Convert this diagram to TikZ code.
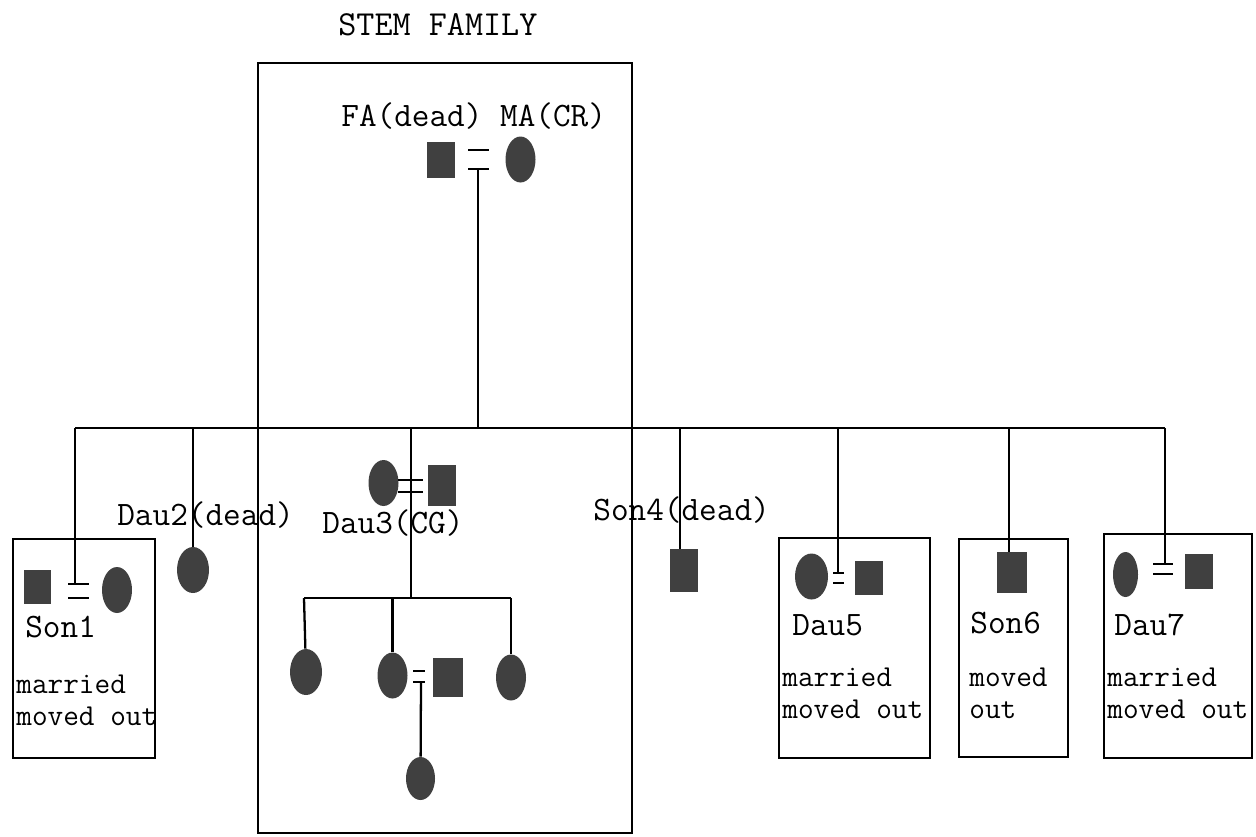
\documentclass[tikz,border=0pt]{standalone}
\usepackage{fontspec}
\usetikzlibrary{shapes.geometric}
\definecolor{shade}{gray}{0.25}

\begin{document}
\begin{tikzpicture}[
    x=0.02cm, y=-0.02cm,
    font=\ttfamily\fontsize{19.5}{22}\selectfont,
    tie/.style={line width=1.3pt},
    frame/.style={draw, line width=1.3pt},
    male/.style={rectangle, fill=shade, inner sep=0pt,
        minimum width=0.56cm, minimum height=0.76cm},
    female/.style={ellipse, fill=shade, inner sep=0pt,
        minimum width=0.6cm, minimum height=0.92cm},
    lbl/.style={inner sep=0pt, anchor=base west},
    note/.style={inner sep=0pt, anchor=base west, align=left,
        font=\ttfamily\fontsize{17.3}{18.2}\selectfont},
]
\useasboundingbox (0,0) rectangle (1256,836);

% === Title and stem family box ===
\node[lbl, font=\ttfamily\fontsize{20}{22}\selectfont] (title) at (338,35) {STEM FAMILY};
\draw[frame] (258,63) rectangle (632,833);

% === Parents ===
\node[lbl] (parlbl) at (341,126) {FA(dead) MA(CR)};
\node[male, minimum height=0.72cm] (fa) at (440.5,160) {};
\node[female] (ma) at (520.5,159.5) {};
\draw[tie] (468,150) -- (489,150);
\draw[tie] (468,169) -- (489,169);
\coordinate (par) at (478,169);
\coordinate (sibtop) at (478,428);
\draw[tie] (par) -- (sibtop);

% === Sibling line ===
\coordinate (sibL) at (75,428);
\coordinate (sibR) at (1165,428);
\draw[tie] (sibL) -- (sibR);

% === Son1 ===
\draw[frame] (13,539) rectangle (155,758);
\node[male, minimum height=0.68cm] (son1) at (37.5,587) {};
\node[female] (son1w) at (117,590) {};
\coordinate (w1) at (75,584);
\draw[tie] (68,584) -- (89,584);
\draw[tie] (68,598) -- (89,598);
\draw[tie] (sibL) -- (w1);
\node[lbl] (son1lbl) at (25,637) {Son1};
\node[note] (son1note) at (16,725) {married\\moved out};

% === Dau2 ===
\node[female, minimum width=0.64cm] (dau2) at (193,570) {};
\draw[tie] (dau2.north |- sibL) -- (dau2);
\node[lbl] (dau2lbl) at (117,525) {Dau2(dead)};

% === Dau3 (caregiver) ===
\node[female] (dau3) at (383.5,483) {};
\node[male, minimum height=0.82cm] (dau3h) at (441.5,485.5) {};
\draw[tie] (398,480) -- (423,480);
\draw[tie] (398,492) -- (423,492);
\coordinate (d3top) at (411,428);
\coordinate (kids) at (411,598);
\draw[tie] (d3top) -- (kids);
\node[lbl] (dau3lbl) at (322,533) {Dau3(CG)};

% === Dau3's children ===
\coordinate (kidsL) at (304,598);
\coordinate (kidsR) at (511,598);
\draw[tie] (kidsL) -- (kidsR);
\node[female, minimum width=0.64cm] (k1) at (306,672) {};
\node[female] (k2) at (392.5,675.5) {};
\node[female] (k3) at (511,677.5) {};
\draw[tie] (kidsL) -- (k1);
\draw[tie] (k2.north |- kidsL) -- (k2);
\draw[tie] (kidsR) -- (k3);
\node[male, minimum width=0.6cm, minimum height=0.78cm] (k2h) at (448,677.5) {};
\draw[tie] (413,671) -- (425,671);
\draw[tie] (413,682) -- (425,682);
\coordinate (w2) at (421,682);
\node[female, minimum width=0.58cm, minimum height=0.86cm] (gk) at (420.5,778.5) {};
\draw[tie] (w2) -- (gk);

% === Son4 ===
\node[male, minimum height=0.86cm] (son4) at (683.5,570.5) {};
\coordinate (s4) at (680,549);
\draw[tie] (s4 |- sibL) -- (s4);
\node[lbl] (son4lbl) at (593,520) {Son4(dead)};

% === Dau5 ===
\draw[frame] (779,538) rectangle (930,758);
\node[female, minimum width=0.66cm] (dau5) at (811.5,576.5) {};
\node[male, minimum height=0.68cm] (dau5h) at (868.5,578) {};
\draw[tie] (833,573) -- (844,573);
\draw[tie] (833,583) -- (844,583);
\coordinate (w5) at (838,573);
\draw[tie] (w5 |- sibL) -- (w5);
\node[lbl] (dau5lbl) at (792,635) {Dau5};
\node[note] (dau5note) at (782,718) {married\\moved out};

% === Son6 ===
\draw[frame] (959,539) rectangle (1068,757);
\node[male, minimum width=0.6cm, minimum height=0.82cm] (son6) at (1012,572.5) {};
\coordinate (s6) at (1009,552);
\draw[tie] (s6 |- sibL) -- (s6);
\node[lbl] (son6lbl) at (970,633) {Son6};
\node[note] (son6note) at (969,718) {moved\\out};

% === Dau7 ===
\draw[frame] (1104,534) rectangle (1252,758);
\node[female, minimum width=0.5cm, minimum height=0.9cm] (dau7) at (1125.5,574.5) {};
\node[male, minimum height=0.7cm] (dau7h) at (1198.5,571.5) {};
\draw[tie] (1153,564) -- (1173,564);
\draw[tie] (1153,574) -- (1173,574);
\coordinate (w7) at (1165,564);
\draw[tie] (sibR) -- (w7);
\node[lbl] (dau7lbl) at (1114,635) {Dau7};
\node[note] (dau7note) at (1107,718) {married\\moved out};

\end{tikzpicture}
\end{document}
